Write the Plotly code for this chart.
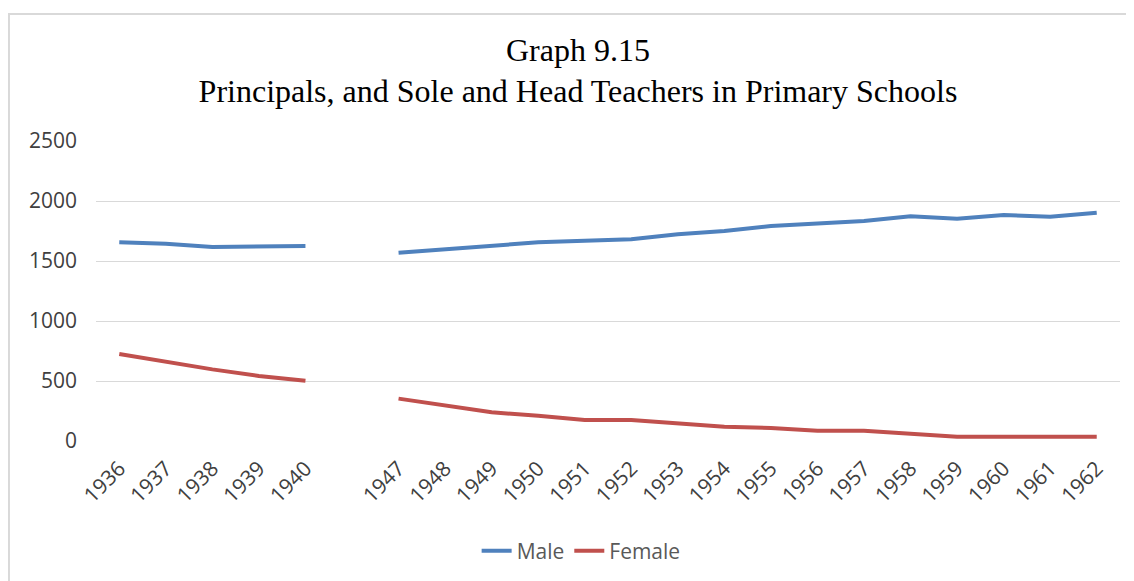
import plotly.graph_objects as go

years = ["1936", "1937", "1938", "1939", "1940", " ",
         "1947", "1948", "1949", "1950", "1951", "1952", "1953", "1954",
         "1955", "1956", "1957", "1958", "1959", "1960", "1961", "1962"]

male = [1656, 1644, 1617, 1625, 1625, None,
        1569, 1597, 1628, 1656, 1669, 1681, 1722, 1750,
        1792, 1811, 1833, 1872, 1853, 1883, 1869, 1903]

female = [725, 661, 597, 542, 503, None,
          353, 294, 239, 211, 175, 175, 147, 119,
          108, 86, 86, 64, 36, 36, 36, 36]

fig = go.Figure()
fig.add_trace(go.Scatter(x=years, y=male, name="Male", mode="lines",
                         line=dict(color="#4F81BD", width=4),
                         connectgaps=False))
fig.add_trace(go.Scatter(x=years, y=female, name="Female", mode="lines",
                         line=dict(color="#C0504D", width=4),
                         connectgaps=False))

# chart border (light grey frame, like the Excel chart area)
fig.add_shape(type="rect", xref="paper", yref="paper",
              x0=-0.085, x1=1.03, y0=-0.55, y1=1.4233,
              line=dict(color="#D9D9D9", width=2), layer="below")

fig.update_layout(
    width=1126, height=573,
    paper_bgcolor="white", plot_bgcolor="white",
    margin=dict(l=88, r=14, t=133, b=140),
    title=dict(text="Graph 9.15<br>Principals, and Sole and Head Teachers in Primary Schools",
               x=0.5062, xanchor="center", y=0.908, yanchor="top",
               font=dict(family="Liberation Serif", size=32, color="#000000")),
    xaxis=dict(type="category", categoryorder="array", categoryarray=years,
               range=[-0.5, len(years) - 0.5], tickangle=-45,
               showgrid=False, showline=False, ticks="",
               ticklabelstandoff=10,
               tickfont=dict(family="Open Sans", size=21, color="#404040")),
    yaxis=dict(range=[0, 2500], dtick=500, gridcolor="#D9D9D9", gridwidth=1,
               zeroline=False, showline=False, ticks="",
               ticklabelstandoff=18,
               tickfont=dict(family="Open Sans", size=21, color="#404040")),
    legend=dict(orientation="h", x=0.509, xref="container", xanchor="center",
                y=0.052, yref="container", yanchor="middle",
                font=dict(family="Open Sans", size=21, color="#595959")),
    showlegend=True,
)

fig.write_html("out.html")
